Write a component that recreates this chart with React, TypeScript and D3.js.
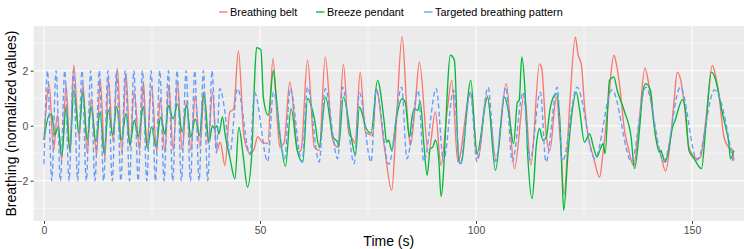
import { useEffect, useRef } from "react";
import * as d3 from "d3";

// time (s), normalized value
const beltData: [number, number][] = [
  [0.0, -0.5], [1.2, 1.5], [2.2, -0.9], [3.1, 0.39], [4.1, -1.25], [5.1, 1.48], [6.0, -0.95],
  [6.9, 2.2], [8.1, -0.46], [9.0, 1.54], [10.0, -1.0], [10.9, 1.0], [12.2, -1.07], [13.0, 1.72],
  [14.1, -1.19], [14.9, 1.66], [16.0, -0.58], [17.0, 2.08], [18.0, -1.0], [19.0, 1.9], [19.9, -0.76],
  [20.9, 1.24], [22.1, -0.88], [23.0, 1.6], [23.8, -0.76], [24.9, 1.42], [26.1, -0.95], [26.9, 1.0],
  [28.0, -0.96], [28.9, 1.47], [29.9, -0.9], [30.9, 1.59], [32.0, -0.9], [33.0, 0.9], [34.0, -0.9],
  [35.0, 1.1], [36.1, -0.78], [37.1, 1.22], [38.0, -0.65], [39.0, 1.22], [40.0, -0.9], [40.8, -0.6],
  [41.9, -1.45], [43.0, 0.5], [43.9, 0.6], [45.0, 2.72], [46.3, -0.4], [47.7, -1.0], [48.5, -0.9],
  [49.5, -0.4], [50.5, -0.6], [51.8, -0.65], [53.0, 2.45], [54.0, 0.2], [54.6, -0.78], [55.6, -0.6],
  [56.9, 1.59], [58.9, -0.96], [59.5, -0.9], [61.0, 2.38], [62.6, -0.78], [63.7, -0.9], [65.1, 2.5],
  [66.8, -0.5], [68.0, -0.78], [69.3, 2.23], [70.5, -0.2], [71.6, -0.53], [72.0, -0.65], [73.2, 1.95],
  [74.4, -0.23], [76.1, -0.35], [76.9, 1.35], [78.8, -0.78], [80.5, -2.35], [81.5, -0.05], [82.9, 3.25],
  [84.0, 0.6], [84.8, -0.72], [85.9, 0.68], [86.9, 2.32], [89.0, -1.02], [90.6, 0.5], [91.9, -1.44],
  [93.3, 0.5], [94.4, 1.65], [95.8, -1.32], [98.7, 1.22], [100.5, -1.2], [102.5, 1.1], [104.7, -1.26],
  [107.0, 1.53], [108.9, -1.56], [111.2, 1.16], [112.7, -1.44], [114.7, 2.25], [115.2, 2.1],
  [116.3, -0.4], [117.1, -0.9], [118.6, 1.04], [119.5, -0.5], [120.4, -2.5], [121.6, 0.5], [123.0, 3.22],
  [123.6, 2.6], [124.4, 2.2], [125.2, 0.56], [126.0, -0.41], [127.2, -1.14], [128.6, -1.87],
  [129.4, -1.0], [130.6, 0.8], [131.9, 2.56], [132.5, 2.25], [133.3, 1.4], [134.4, -0.2], [135.2, -0.78],
  [136.5, -1.45], [137.7, 0.0], [139.1, 2.1], [139.9, 1.59], [140.8, 0.56], [141.6, -0.41],
  [142.7, -1.02], [143.9, -1.65], [145.0, -0.53], [145.8, 0.8], [146.6, 1.95], [147.4, 1.65],
  [148.2, 0.8], [149.3, -0.78], [151.2, -1.2], [152.0, -1.14], [153.2, 0.2], [154.7, 2.19],
  [155.6, 1.71], [156.2, 1.16], [157.4, -0.41], [158.5, -0.78], [159.2, -0.84], [159.7, -1.26],
];

const pendantData: [number, number][] = [
  [0.0, -0.52], [1.2, 0.39], [1.8, 0.41], [2.5, -0.34], [3.3, -0.04], [4.1, -1.13], [5.1, 0.69],
  [6.0, -0.95], [6.9, 1.3], [8.1, -0.28], [9.0, 1.24], [10.0, -0.52], [10.9, 0.69], [12.0, -0.58],
  [13.0, 0.5], [13.9, -1.0], [14.9, 0.57], [15.9, -0.34], [16.8, 0.69], [17.9, -0.52], [19.0, 0.45],
  [19.9, -0.7], [20.9, 0.2], [21.8, -0.4], [23.0, 0.69], [23.9, -0.82], [24.9, -0.04], [25.9, -0.75],
  [27.0, 0.3], [28.0, -0.3], [28.8, 0.74], [29.9, 0.25], [30.9, 0.8], [32.0, -0.23], [33.0, 0.74],
  [34.0, -0.41], [35.0, 0.25], [36.0, -0.35], [37.0, 1.22], [38.2, -0.6], [39.0, 0.0], [39.5, -0.12],
  [40.0, 0.0], [40.5, -0.3], [41.3, 0.32], [42.0, -0.4], [43.0, -1.14], [44.2, -1.93], [45.1, -0.05],
  [46.1, -1.08], [47.1, -2.23], [48.1, -1.02], [48.7, 1.5], [49.2, 2.84], [50.2, 2.76], [50.8, 1.0],
  [51.9, 0.38], [53.1, 2.0], [53.7, 1.16], [54.6, -0.3], [55.9, -1.48], [57.2, 0.62], [58.6, -0.9],
  [59.9, -1.32], [61.0, 0.98], [62.6, 0.25], [63.7, -0.78], [65.2, 1.04], [66.9, -0.41], [68.0, -0.6],
  [68.2, -0.78], [69.3, 1.04], [71.1, -0.41], [72.1, -1.08], [73.0, 0.68], [74.6, -0.1], [75.7, -0.27],
  [77.2, 1.65], [78.8, 0.07], [79.3, -0.6], [79.8, -0.53], [80.5, -0.9], [81.6, 0.3], [82.9, 0.98],
  [83.6, 0.86], [84.6, -0.41], [85.2, 0.3], [85.7, 0.62], [86.5, 0.56], [87.1, 0.86], [87.9, -0.6],
  [88.7, -1.8], [89.4, -0.84], [90.0, -0.78], [90.6, -0.53], [91.4, -1.27], [91.9, -2.57], [94.1, 2.56],
  [95.0, 2.38], [96.0, -1.27], [96.5, -1.38], [98.8, 1.65], [100.2, -1.02], [102.7, 1.04],
  [104.5, -1.62], [106.6, 1.04], [107.6, 0.44], [108.7, -0.65], [109.6, 0.86], [110.0, 0.92],
  [110.6, 2.5], [111.3, 1.4], [112.0, -1.14], [113.0, -2.65], [114.0, -0.65], [114.7, -0.1],
  [115.5, -0.53], [116.3, -0.41], [117.0, 0.44], [117.4, 0.8], [118.6, 1.16], [119.4, 0.2],
  [119.8, -1.27], [120.3, -3.08], [121.3, -1.02], [122.2, 0.44], [123.2, 1.22], [124.0, 0.56],
  [125.1, -0.6], [126.3, -0.3], [127.2, -0.78], [128.0, -1.14], [128.8, -0.84], [129.4, -0.65],
  [129.9, -1.02], [130.9, 1.65], [131.9, 1.77], [132.7, 1.28], [134.4, 0.5], [135.9, -0.41],
  [136.7, -1.56], [137.9, -0.05], [138.6, 1.2], [139.3, 1.53], [140.4, 1.28], [141.2, 0.07],
  [142.4, -0.96], [142.8, -0.9], [143.1, -1.02], [143.8, -1.32], [144.7, -0.78], [145.5, -0.05],
  [146.1, 0.19], [146.8, 0.58], [147.8, 0.95], [148.5, 0.56], [149.3, -0.9], [150.5, -1.2],
  [152.2, -1.56], [153.2, -0.05], [154.5, 1.95], [155.4, 1.71], [156.2, 1.16], [156.9, 0.56],
  [157.7, 0.01], [158.5, -0.6], [158.9, -1.2], [159.7, -0.9],
];

const targetData: [number, number][] = [
  [0.0, -1.4], [0.8, 2.0], [1.8, -2.0], [2.8, 2.0], [3.8, -2.0], [4.8, 2.0], [5.8, -2.0], [6.8, 2.0],
  [7.8, -2.0], [8.8, 2.0], [9.8, -2.0], [10.8, 2.0], [11.8, -2.0], [12.8, 2.0], [13.8, -2.0],
  [14.8, 2.0], [15.8, -2.0], [16.8, 2.0], [17.8, -2.0], [18.8, 2.0], [19.8, -2.0], [20.8, 2.0],
  [21.8, -2.0], [22.8, 2.0], [23.8, -2.0], [24.8, 2.0], [25.8, -2.0], [26.8, 2.0], [27.8, -2.0],
  [28.8, 2.0], [29.8, -2.0], [30.8, 2.0], [31.8, -2.0], [32.9, 2.0], [33.9, -2.0], [34.9, 2.0],
  [35.9, -2.0], [36.9, 2.0], [37.9, -2.0], [38.9, 2.0], [39.9, -1.0], [40.7, 1.35], [41.8, 0.6],
  [43.0, -1.0], [44.8, 1.35], [47.7, -1.05], [48.7, 1.22], [51.8, -1.3], [53.1, 1.22], [55.7, -1.2],
  [57.0, 1.35], [59.7, -1.32], [61.0, 1.4], [63.7, -1.32], [65.1, 1.35], [68.0, -1.2], [69.1, 1.4],
  [71.8, -1.38], [73.0, 1.2], [75.7, -1.32], [76.9, 1.3], [79.8, -1.4], [82.8, 1.4], [84.0, -1.2],
  [86.6, 1.28], [87.9, -1.3], [90.8, 1.35], [92.5, -1.3], [94.8, 1.3], [96.3, -1.4], [98.7, 1.22],
  [100.2, -1.3], [102.8, 1.4], [104.5, -1.3], [106.9, 1.4], [108.4, -1.3], [110.9, 1.22],
  [112.5, -1.25], [114.9, 1.22], [116.2, -1.32], [118.8, 1.4], [120.0, -1.3], [123.4, 1.4],
  [127.5, -1.2], [131.5, 1.3], [136.0, -1.3], [139.3, 1.4], [143.5, -1.3], [147.3, 1.4],
  [151.2, -1.25], [155.2, 1.3], [159.5, -1.35],
];

const seriesNames = ["Breathing belt", "Breeze pendant", "Targeted breathing pattern"];
const seriesColors = ["#F8766D", "#00BA38", "#619CFF"];
const timeTicks = [0, 50, 100, 150];
const timeMinorTicks = [25, 75, 125];
const valueTicks = [-2, 0, 2];
const valueMinorTicks = [-3, -1, 1, 3];

const W = 747;
const H = 249;

export default function App() {
  const svgRef = useRef<SVGSVGElement>(null);

  useEffect(() => {
    const svg = d3.select(svgRef.current);
    svg.selectAll("*").remove();

    const panel = { left: 33.5, right: 744, top: 26, bottom: 221 };
    const font = "'Liberation Sans', Arial, sans-serif";

    // scales
    const x = d3.scaleLinear().domain([-2.43, 162.04]).range([panel.left, panel.right]);
    const y = d3.scaleLinear().domain([-3.465, 3.625]).range([panel.bottom, panel.top]);

    svg.append("rect").attr("width", W).attr("height", H).attr("fill", "#FFFFFF");

    // panel background
    svg
      .append("rect")
      .attr("x", panel.left)
      .attr("y", panel.top)
      .attr("width", panel.right - panel.left)
      .attr("height", panel.bottom - panel.top)
      .attr("fill", "#EBEBEB");

    const grid = svg.append("g");
    // minor grid
    valueMinorTicks.forEach((v) => {
      grid.append("line").attr("x1", panel.left).attr("x2", panel.right)
        .attr("y1", y(v)).attr("y2", y(v)).attr("stroke", "#FFFFFF").attr("stroke-width", 0.55);
    });
    timeMinorTicks.forEach((t) => {
      grid.append("line").attr("y1", panel.top).attr("y2", panel.bottom)
        .attr("x1", x(t)).attr("x2", x(t)).attr("stroke", "#FFFFFF").attr("stroke-width", 0.55);
    });
    // major grid
    valueTicks.forEach((v) => {
      grid.append("line").attr("x1", panel.left).attr("x2", panel.right)
        .attr("y1", y(v)).attr("y2", y(v)).attr("stroke", "#FFFFFF").attr("stroke-width", 1.1);
    });
    timeTicks.forEach((t) => {
      grid.append("line").attr("y1", panel.top).attr("y2", panel.bottom)
        .attr("x1", x(t)).attr("x2", x(t)).attr("stroke", "#FFFFFF").attr("stroke-width", 1.1);
    });

    // lines
    const line = d3
      .line<[number, number]>()
      .x((d) => x(d[0]))
      .y((d) => y(d[1]))
      .curve(d3.curveMonotoneX);

    const allSeries = [beltData, pendantData, targetData];
    allSeries.forEach((data, i) => {
      svg
        .append("path")
        .datum(data)
        .attr("d", line)
        .attr("fill", "none")
        .attr("stroke", seriesColors[i])
        .attr("stroke-width", 1.35)
        .attr("stroke-dasharray", i === 2 ? "5,3" : null)
        .attr("stroke-linejoin", "round");
    });

    // axes
    const xAxis = d3.axisBottom(x).tickValues(timeTicks).tickSize(2.75).tickPadding(2.5);
    const gx = svg.append("g").attr("transform", `translate(0,${panel.bottom})`).call(xAxis);
    gx.select(".domain").remove();
    gx.selectAll(".tick line").attr("stroke", "#333333").attr("stroke-width", 1);
    gx.selectAll(".tick text").attr("fill", "#4D4D4D").attr("font-size", 10.5).attr("font-family", font);

    const yAxis = d3
      .axisLeft(y)
      .tickValues(valueTicks)
      .tickSize(2.75)
      .tickPadding(2.5)
      .tickFormat((d) => d3.format("d")(d as number).replace("-", "\u2212"));
    const gy = svg.append("g").attr("transform", `translate(${panel.left},0)`).call(yAxis);
    gy.select(".domain").remove();
    gy.selectAll(".tick line").attr("stroke", "#333333").attr("stroke-width", 1);
    gy.selectAll(".tick text").attr("fill", "#4D4D4D").attr("font-size", 10.5).attr("font-family", font);

    // axis titles
    svg
      .append("text")
      .attr("x", (panel.left + panel.right) / 2)
      .attr("y", 246)
      .attr("text-anchor", "middle")
      .attr("font-size", 14)
      .attr("font-family", font)
      .attr("fill", "#000000")
      .text("Time (s)");

    svg
      .append("text")
      .attr("transform", `translate(15.5,${(panel.top + panel.bottom) / 2}) rotate(-90)`)
      .attr("text-anchor", "middle")
      .attr("font-size", 14)
      .attr("font-family", font)
      .attr("fill", "#000000")
      .text("Breathing (normalized values)");

    // legend
    const legendX = [219, 316, 424];
    const legend = svg.append("g");
    seriesNames.forEach((name, i) => {
      legend
        .append("line")
        .attr("x1", legendX[i])
        .attr("x2", legendX[i] + 8.5)
        .attr("y1", 12)
        .attr("y2", 12)
        .attr("stroke", seriesColors[i])
        .attr("stroke-width", 1.35);
      legend
        .append("text")
        .attr("x", legendX[i] + 11)
        .attr("y", 12)
        .attr("dy", "0.35em")
        .attr("font-size", 10.9)
        .attr("font-family", font)
        .attr("fill", "#000000")
        .text(name);
    });
  }, []);

  return (
    <svg
      ref={svgRef}
      width={W}
      height={H}
      style={{ position: "absolute", left: 0, top: 0, display: "block" }}
    />
  );
}
